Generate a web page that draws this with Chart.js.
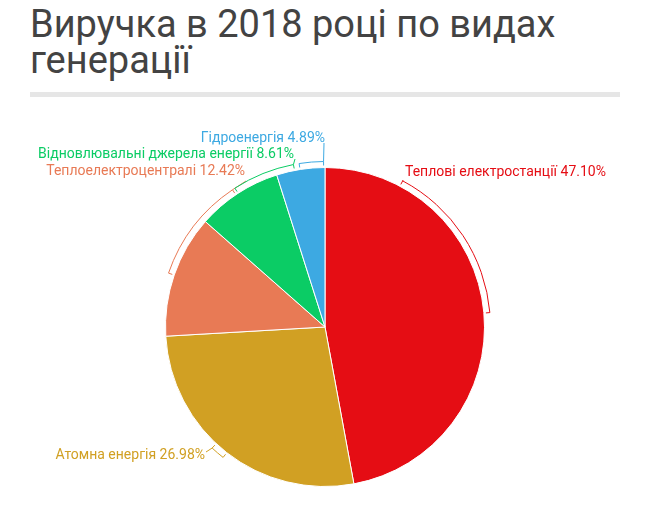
<!DOCTYPE html>
<html>
<head>
<meta charset="utf-8">
<script src="https://cdn.jsdelivr.net/npm/chart.js@4"></script>
<style>
  body { margin: 0; background: #fff; width: 650px; height: 512px; position: relative; overflow: hidden; }
  #title { position: absolute; left: 30px; top: 6px; font-family: Roboto, sans-serif; font-size: 38px; line-height: 36px; color: #434343; }
  #bar { position: absolute; left: 30px; top: 92px; width: 590px; height: 5px; background: #e6e6e6; }
  #wrap { position: absolute; left: 0; top: 100px; width: 650px; height: 412px; }
</style>
</head>
<body>
<div id="title">Виручка в 2018 році по видах<br>генерації</div>
<div id="bar"></div>
<div id="wrap"><canvas id="pie" width="650" height="412"></canvas></div>
<script>
const categories = ['Теплові електростанції', 'Атомна енергія', 'Теплоелектроцентралі', 'Відновлювальні джерела енергії', 'Гідроенергія'];
const shares = [47.10, 26.98, 12.42, 8.61, 4.89];
const colors = ['#e50d14', '#d1a023', '#e87a55', '#0bcc65', '#3da9e2'];

// label brackets: arc range in degrees (clockwise from top), end that links to the text,
// text anchor relative to pie centre, link point, alignment
const labelLayout = [
  { a1: 28,  a2: 85,    link: 'a1', tx: 80,   ty: -154.5, lx: 78,   ly: -147, align: 'left' },
  { a1: 218, a2: 223,   link: 'a2', tx: -120, ty: 128,    lx: -119, ly: 125,  align: 'right' },
  { a1: 289, a2: 326,   link: 'a2', tx: -80,  ty: -155.5, lx: -79,  ly: -146, align: 'right' },
  { a1: 327, a2: 349,   link: 'a2', tx: -31,  ty: -172.5, lx: -30,  ly: -168, align: 'right' },
  { a1: 351, a2: 359.5, link: 'a2', tx: 0,    ty: -189,   lx: -1,   ly: -184, align: 'right' }
];

const pieLabels = {
  id: 'pieLabels',
  afterDraw(chart) {
    const meta = chart.getDatasetMeta(0);
    const arc0 = meta.data[0];
    const cx = arc0.x, cy = arc0.y, R = arc0.outerRadius;
    const ctx = chart.ctx;
    const rb = R + 6;
    const pt = (deg, r) => {
      const a = (deg - 90) * Math.PI / 180;
      return [cx + Math.cos(a) * r, cy + Math.sin(a) * r];
    };
    ctx.save();
    ctx.lineWidth = 1;
    ctx.font = '14px Roboto';
    ctx.textBaseline = 'middle';
    labelLayout.forEach((L, i) => {
      ctx.strokeStyle = colors[i];
      ctx.beginPath();
      const s = pt(L.a1, rb - 4);
      ctx.moveTo(s[0], s[1]);
      ctx.arc(cx, cy, rb, (L.a1 - 90) * Math.PI / 180, (L.a2 - 90) * Math.PI / 180);
      const e = pt(L.a2, rb - 4);
      ctx.lineTo(e[0], e[1]);
      ctx.stroke();
      const p = pt(L.link === 'a1' ? L.a1 : L.a2, rb);
      ctx.beginPath();
      ctx.moveTo(p[0], p[1]);
      ctx.lineTo(cx + L.lx, cy + L.ly);
      ctx.stroke();
      ctx.fillStyle = colors[i];
      ctx.textAlign = L.align;
      ctx.fillText(categories[i] + ' ' + shares[i].toFixed(2) + '%', cx + L.tx, cy + L.ty);
    });
    ctx.restore();
  }
};

new Chart(document.getElementById('pie'), {
  type: 'pie',
  data: {
    labels: categories,
    datasets: [{
      data: shares,
      backgroundColor: colors,
      borderColor: '#ffffff',
      borderWidth: 1
    }]
  },
  options: {
    responsive: false,
    animation: false,
    layout: { padding: { left: 165, right: 165, top: 67, bottom: 25 } },
    plugins: { legend: { display: false }, tooltip: { enabled: false } }
  },
  plugins: [pieLabels]
});
</script>
</body>
</html>
